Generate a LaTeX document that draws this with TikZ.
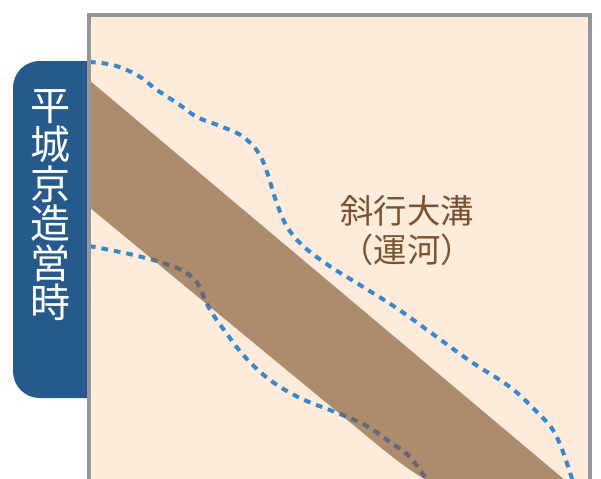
\documentclass[tikz,border=0pt]{standalone}
\usepackage{fontspec}
\newfontfamily\jpfont{Noto Sans CJK JP}
\usepackage{tikz}
\definecolor{canvas}{RGB}{253,236,220}
\definecolor{canal}{RGB}{173,139,109}
\definecolor{tabblue}{RGB}{38,90,140}
\definecolor{zoneblue}{RGB}{58,135,205}
\definecolor{zonegray}{RGB}{105,105,115}
\definecolor{framegray}{RGB}{150,150,152}
\definecolor{labelbrown}{RGB}{122,82,47}
\tikzset{
zone/.style={zoneblue, line width=3pt, dash pattern=on 5pt off 4.5pt}, % dotted outline of the site
frame/.style={framegray, line width=3pt}, % border of the plan
tabtext/.style={text=white, align=center, inner sep=0pt, font=\jpfont\fontsize{30pt}{29.6pt}\selectfont},
canallabel/.style={text=labelbrown, align=center, inner sep=0pt, font=\jpfont\fontsize{25pt}{29.3pt}\selectfont}
}
% the canal band and the lower dotted line are used twice
\def\canalpath{(89,80) -- (566,481) -- (428,481) .. controls (412,472) and (400,463) .. (380,447) -- (89,207) -- cycle}
\def\lowerzone{plot[smooth, tension=0.6] coordinates {(89,246) (115,251) (138,256) (163,263) (185,272) (198,284) (204,298) (212,313) (227,334) (245,357) (270,380) (300,398) (335,412) (365,425) (390,442) (410,457) (428,482)}}

\begin{document}
\begin{tikzpicture}[x=0.75pt, y=-0.75pt]
        \useasboundingbox (0,0) rectangle (601,479);
        % tab on the left
        \fill [tabblue, rounded corners=20pt] (13,61) rectangle (120,398);
        \node [tabtext] (eratitle) at (51,205) {平\\城\\京\\造\\営\\時};
        % plan
        \fill [canvas] (89,15) rectangle (590,479);
        \begin{scope}
        \clip (89,15) rectangle (590,479);
        \fill [canal] \canalpath;
        \draw [zone] plot[smooth, tension=0.6] coordinates {(89,62) (113,65) (137,75) (157,90) (177,103) (197,117) (220,126) (242,136) (258,152) (267,172) (275,198) (286,225) (302,245) (328,265) (360,285) (395,307) (430,332) (470,361) (510,387) (537,412) (553,430) (563,452) (573,482)};
        \draw [zone] \lowerzone;
        \begin{scope}
        \clip \canalpath;
        \draw [zone, zonegray] \lowerzone;
        \end{scope}
        \end{scope}
        \draw [frame] (89,482) -- (89,15) -- (590,15) -- (590,482);
        \node [canallabel] (canallabel) at (407,230.5) {斜行大溝\\（運河）};
\end{tikzpicture}
\end{document}
